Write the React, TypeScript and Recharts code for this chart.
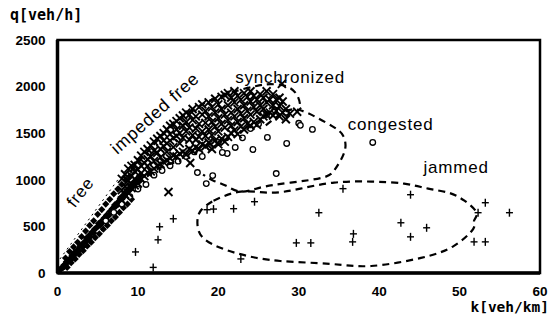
import React from 'react';
import { ScatterChart, Scatter, XAxis, YAxis, ReferenceArea, ReferenceLine, ReferenceDot, Label } from 'recharts';

// ---- data (k [veh/km], q [veh/h]) ----
const xTicks = [0, 10, 20, 30, 40, 50, 60];
const yTicks = [0, 500, 1000, 1500, 2000, 2500];

const freeK = [0.3,0.5,0.7,0.8,1,1.1,1.3,1.5,1.6,1.8,2,2.1,2.3,2.5,2.6,2.8,3,3.1,3.3,3.5,3.6,3.8,4,4.1,4.3,4.5,4.6,4.8,5,5.1,5.3,5.5,5.6,5.8,6,6.1,6.3,6.5,6.6,6.8,7,7.1,7.3,7.5,7.6,7.8,8,8.1,8.3,8.5,8.6,8.8,9,9.1,9.3,9.5,9.6,9.8,10,10.2,
  1,1.5,2,2.5,3,3.5,4,4.5,5,5.5,6,6.5,7,7.5,8,8.5,9,
  1.2,1.7,2.2,2.7,3.2,3.7,4.2,4.7,5.2,5.7,6.2,6.7,7.2,7.7,8.2,8.7,9.2];
const freeQ = [30,55,60,85,95,120,125,150,140,185,190,220,215,250,240,290,300,280,330,340,375,360,410,390,440,430,470,480,500,530,510,560,540,590,600,620,610,660,640,690,700,730,720,760,740,800,790,830,820,870,850,900,890,940,920,970,950,1000,990,1040,
  160,230,280,330,390,450,510,560,630,680,740,790,850,900,950,1000,1040,
  60,110,150,200,240,290,330,380,420,470,510,560,600,650,700,740,790];

const syncK = [8,8,8,8.4,8.4,8.4,8.8,8.8,8.8,9.2,9.2,9.2,9.6,9.6,9.6,9.6,10,10,10,10.4,10.4,10.4,10.4,10.8,10.8,10.8,11.2,11.2,11.2,11.2,11.6,11.6,11.6,12,12,12,12,12.4,12.4,12.4,12.8,12.8,12.8,12.8,13.2,13.2,13.2,13.2,13.6,13.6,13.6,13.6,14,14,14,14,14.4,14.4,14.4,14.4,14.8,14.8,14.8,14.8,15.2,15.2,15.2,15.2,15.6,15.6,15.6,15.6,16,16,16,16,16.4,16.4,16.4,16.4,16.8,16.8,16.8,16.8,17.2,17.2,17.2,17.2,17.6,17.6,17.6,17.6,18,18,18,18,18.4,18.4,18.4,18.4,18.8,18.8,18.8,18.8,19.2,19.2,19.2,19.2,19.6,19.6,19.6,19.6,20,20,20,20,20.4,20.4,20.4,20.4,20.8,20.8,20.8,20.8,21.2,21.2,21.2,21.2,21.6,21.6,21.6,21.6,22,22,22,22,22.4,22.4,22.4,22.4,22.8,22.8,22.8,23.2,23.2,23.2,23.2,23.6,23.6,23.6,24,24,24,24,24.4,24.4,24.4,24.8,24.8,24.8,25.2,25.2,25.2,25.6,25.6,25.6,26,26,26,26.4,26.4,26.8,26.8,26.8,27.2,27.2,27.6,27.6,27.6,28,28,28.4,28.4,28.9,13.8,16.5,27.9,29.8];
const syncQ = [780,890,1010,840,930,1060,860,990,1120,910,1040,1150,940,1010,1160,1090,960,1110,1210,1010,1150,1260,1070,1040,1180,1300,1080,1220,1330,1150,1090,1250,1370,1120,1200,1310,1410,1150,1290,1440,1170,1330,1470,1240,1190,1360,1500,1420,1210,1300,1390,1540,1230,1420,1580,1490,1260,1350,1450,1600,1250,1470,1630,1540,1280,1390,1500,1660,1300,1450,1580,1690,1270,1520,1620,1720,1330,1430,1560,1700,1310,1480,1640,1760,1350,1550,1680,1430,1330,1460,1600,1780,1380,1520,1700,1810,1360,1610,1740,1470,1400,1540,1680,1830,1330,1480,1620,1780,1420,1570,1720,1870,1380,1520,1660,1810,1440,1600,1760,1890,1410,1560,1700,1910,1460,1640,1800,1930,1500,1580,1720,1880,1530,1680,1830,1950,1490,1620,1760,1900,1570,1710,1860,1540,1660,1800,1930,1600,1740,1890,1580,1700,1840,1950,1620,1780,1900,1590,1730,1860,1650,1800,1920,1680,1760,1880,1700,1830,1950,1720,1860,1690,1800,1920,1740,1860,1680,1790,1880,1720,1840,1760,1650,1710,869,1180,2030,1730];

const congK = [6,7,8,9,10,11,12,13,14,15,16,17,18,19,20,21,22,23,24,25,26,27,26.1,28.5,24.3,22.1,21.1,20.5,19.4,17.4,19.3,18.5,27.2,30.0,31.7,39.2,30.2,28.4];
const congQ = [560,650,740,820,900,950,1050,1100,1150,1200,1250,1300,1250,1350,1400,1450,1500,1450,1550,1600,1700,1750,1455,1390,1325,1347,1282,1293,1390,1078,1045,959,1067,1606,1541,1401,1584,1724];

const jamK = [35.5,43.9,53.2,56.2,52.3,42.7,45.9,43.9,36.8,36.7,51.8,53.2,32.5,29.7,31.5,22.8,21.9,24.5,18.6,19.4,14.4,12.7,12.5,9.7,11.9];
const jamQ = [905,840,754,647,647,539,485,388,420,334,334,334,647,323,323,151,690,765,679,686,582,496,356,226,60];

// region outlines (dashed / dotted)
const freeLeftK = [0.3, 7.5];
const freeLeftQ = [150, 1000];
const freeRightK = [0.8, 7.5];
const freeRightQ = [30, 640];
const impededLowK = [10, 11.5, 13.2, 15.3];
const impededLowQ = [950, 1060, 1150, 1200];
const upperK = [9, 12.2, 14.7, 17.1, 19.6, 22.1, 24.6, 26.5, 28.7, 29.9, 30.2];
const upperQ = [1080, 1400, 1616, 1767, 1875, 1950, 2004, 2026, 1995, 1890, 1780];
const congestedK = [25.9, 28.4, 30.2, 32.2, 34.4, 35.5, 35.8, 35.2, 34.4, 33.0, 29.0, 25.2, 22.8, 20.9, 19.4, 18.1];
const congestedQ = [1584, 1735, 1746, 1670, 1563, 1476, 1347, 1207, 1099, 1024, 970, 916, 873, 938, 991, 1056];
const jammedK = [19.4, 22.8, 26.5, 30.2, 34.4, 39.0, 43.1, 46.1, 48.6, 50.6, 52.1, 51.8, 51.7, 49.3, 45.2, 39.0, 34.0, 27.7, 23.6, 20.6, 18.1, 17.4, 17.8, 19.4];
const jammedQ = [776, 873, 862, 905, 970, 981, 959, 905, 862, 776, 647, 560, 474, 291, 162, 75, 97, 129, 183, 259, 377, 528, 668, 776];

const zip = (ks: number[], qs: number[]) => ks.map((k, i) => ({ k, q: qs[i] }));

const FONT = '"Liberation Sans", Arial, sans-serif';
const MONO = '"DejaVu Sans Mono", "Liberation Mono", monospace';

const Diamond = (p: any) => (
  <path d={`M${p.cx},${p.cy - 3.6}L${p.cx + 3.6},${p.cy}L${p.cx},${p.cy + 3.6}L${p.cx - 3.6},${p.cy}Z`} fill="#000" />
);
const Cross = (p: any) => (
  <g stroke="#000" strokeWidth={1.9}>
    <line x1={p.cx - 4} y1={p.cy - 4} x2={p.cx + 4} y2={p.cy + 4} />
    <line x1={p.cx - 4} y1={p.cy + 4} x2={p.cx + 4} y2={p.cy - 4} />
  </g>
);
const Ring = (p: any) => (
  <circle cx={p.cx} cy={p.cy} r={2.8} fill="#fff" stroke="#000" strokeWidth={1.3} />
);
const Plus = (p: any) => (
  <g stroke="#000" strokeWidth={1.4}>
    <line x1={p.cx - 3.5} y1={p.cy} x2={p.cx + 3.5} y2={p.cy} />
    <line x1={p.cx} y1={p.cy - 4} x2={p.cx} y2={p.cy + 4} />
  </g>
);
const NoShape = () => <g />;

const dashed = { stroke: '#000', strokeWidth: 2.2, strokeDasharray: '7 5', fill: 'none' };
const dotted = { stroke: '#000', strokeWidth: 1, strokeDasharray: '2 4', fill: 'none' };

const label = (text: string, rotate = 0, anchor: 'start' | 'middle' = 'start', size = 17) => (p: any) => (
  <text
    x={p.cx}
    y={p.cy}
    fontFamily={FONT}
    fontSize={size}
    letterSpacing={0.8}
    fill="#000"
    textAnchor={anchor}
    dy={anchor === 'middle' ? '0.35em' : 0}
    transform={rotate ? `rotate(${rotate} ${p.cx} ${p.cy})` : undefined}
  >
    {text}
  </text>
);

const tickStyle = { fill: '#000', fontSize: 13.5, fontWeight: 'bold' as const, fontFamily: FONT };

export default function App() {
  return (
    <div style={{ position: 'absolute', left: 0, top: 0, width: 559, height: 321, background: '#fff' }}>
      <ScatterChart width={559} height={321} margin={{ top: 40, right: 19, bottom: 20, left: 0 }}>
        <XAxis
          type="number"
          dataKey="k"
          domain={[0, 60]}
          ticks={xTicks}
          axisLine={false}
          tickLine={false}
          tickSize={0}
          tickMargin={13}
          height={28}
          tick={tickStyle}
          interval={0}
        >
          <Label
            content={() => (
              <text x={549} y={312} textAnchor="end" fontFamily={MONO} fontWeight="bold" fontSize={14.5} fill="#000">
                k[veh/km]
              </text>
            )}
          />
        </XAxis>
        <YAxis
          type="number"
          dataKey="q"
          domain={[0, 2500]}
          ticks={yTicks}
          axisLine={false}
          tickLine={false}
          tickSize={0}
          tickMargin={12}
          width={57.5}
          tick={tickStyle}
          interval={0}
        >
          <Label
            content={() => (
              <text x={10} y={20} textAnchor="start" fontFamily={MONO} fontWeight="bold" fontSize={15} fill="#000">
                q[veh/h]
              </text>
            )}
          />
        </YAxis>
        <ReferenceArea x1={0} x2={60} y1={0} y2={2500} fill="none" stroke="#000" strokeWidth={2.5} ifOverflow="visible" />
        <ReferenceLine x={0} stroke="#000" strokeWidth={3.5} ifOverflow="visible" />
        <ReferenceLine y={0} stroke="#000" strokeWidth={3.5} ifOverflow="visible" />

        <Scatter data={zip(freeK, freeQ)} shape={Diamond} isAnimationActive={false} />
        <Scatter data={zip(congK, congQ)} shape={Ring} isAnimationActive={false} />
        <Scatter data={zip(syncK, syncQ)} shape={Cross} isAnimationActive={false} />
        <Scatter data={zip(jamK, jamQ)} shape={Plus} isAnimationActive={false} />

        <Scatter data={zip(freeLeftK, freeLeftQ)} line={dotted} shape={NoShape} isAnimationActive={false} />
        <Scatter data={zip(freeRightK, freeRightQ)} line={dotted} shape={NoShape} isAnimationActive={false} />
        <Scatter data={zip(impededLowK, impededLowQ)} line={dashed} lineJointType="natural" shape={NoShape} isAnimationActive={false} />
        <Scatter data={zip(upperK, upperQ)} line={dashed} lineJointType="natural" shape={NoShape} isAnimationActive={false} />
        <Scatter data={zip(congestedK, congestedQ)} line={dashed} lineJointType="natural" shape={NoShape} isAnimationActive={false} />
        <Scatter data={zip(jammedK, jammedQ)} line={dashed} lineJointType="natural" shape={NoShape} isAnimationActive={false} />

        <ReferenceDot x={2.8} y={869} r={0} ifOverflow="visible" shape={label('free', -52, 'middle')} />
        <ReferenceDot x={12.1} y={1717} r={0} ifOverflow="visible" shape={label('impeded free', -42, 'middle', 17.5)} />
        <ReferenceDot x={22.1} y={2039} r={0} ifOverflow="visible" shape={label('synchronized')} />
        <ReferenceDot x={36.1} y={1534} r={0} ifOverflow="visible" shape={label('congested')} />
        <ReferenceDot x={45.5} y={1073} r={0} ifOverflow="visible" shape={label('jammed')} />
      </ScatterChart>
    </div>
  );
}
